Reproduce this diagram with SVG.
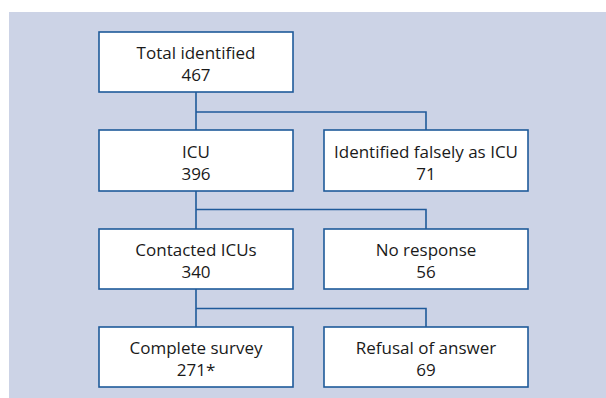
<svg xmlns="http://www.w3.org/2000/svg" width="606" height="398" viewBox="0 0 606 398">
<style>
.box{fill:#fff;stroke:#1f5a9a;stroke-width:1.6}
.t{font-family:"Open Sans","Noto Sans",sans-serif;font-size:17px;fill:#1a1a1a;text-anchor:middle}
.c{fill:none;stroke:#1f5a9a;stroke-width:1.6}
</style>
<rect x="9" y="12" width="597" height="386" fill="#ccd3e6"/>
<g id="connectors">
<path class="c" d="M196 92V130M196 112H426V130"/>
<path class="c" d="M196 191V229M196 209.5H426V229"/>
<path class="c" d="M196 289V327M196 308.5H426V327"/>
</g>
<g id="n1"><rect class="box" x="99" y="32" width="194" height="60"/><text class="t" x="196" y="59">Total identified</text><text class="t" x="196" y="81">467</text></g>
<g id="n2"><rect class="box" x="99" y="130" width="194" height="61"/><text class="t" x="196" y="158">ICU</text><text class="t" x="196" y="180">396</text></g>
<g id="n3"><rect class="box" x="324" y="130" width="204" height="61"/><text class="t" x="426" y="158">Identified falsely as ICU</text><text class="t" x="426" y="180">71</text></g>
<g id="n4"><rect class="box" x="99" y="229" width="194" height="60"/><text class="t" x="196" y="255.5">Contacted ICUs</text><text class="t" x="196" y="277.5">340</text></g>
<g id="n5"><rect class="box" x="324" y="229" width="204" height="60"/><text class="t" x="426" y="255.5">No response</text><text class="t" x="426" y="277.5">56</text></g>
<g id="n6"><rect class="box" x="99" y="327" width="194" height="60"/><text class="t" x="196" y="354">Complete survey</text><text class="t" x="196" y="376">271*</text></g>
<g id="n7"><rect class="box" x="324" y="327" width="204" height="60"/><text class="t" x="426" y="354">Refusal of answer</text><text class="t" x="426" y="376">69</text></g>
</svg>
